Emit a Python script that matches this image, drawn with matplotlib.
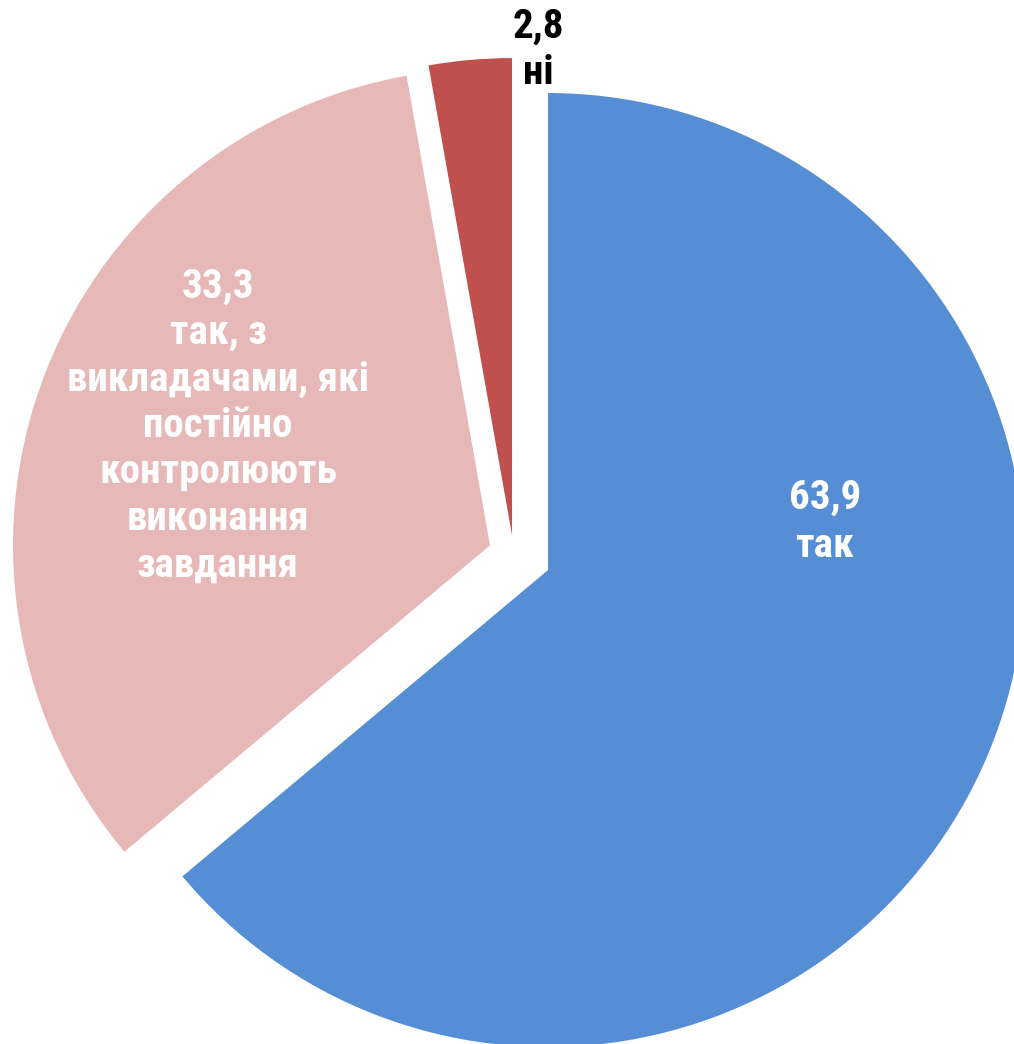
import matplotlib
matplotlib.use("Agg")
import matplotlib.pyplot as plt
from matplotlib import font_manager as fm

values = [63.9, 33.3, 2.8]
value_labels = ["63,9", "33,3", "2,8"]
categories = ["так", "так, з\nвикладачами, які\nпостійно\nконтролюють\nвиконання\nзавдання", "ні"]
colors = ["#558ED5", "#E6B9B8", "#C0504D"]

names = {f.name for f in fm.fontManager.ttflist}
fam = [n for n in ["Liberation Sans Narrow", "Arial Narrow", "Roboto Condensed", "Liberation Sans"] if n in names] + ["DejaVu Sans"]
plt.rcParams['font.family'] = fam

W, H = 1014, 1044
fig = plt.figure(figsize=(W / 100, H / 100), dpi=100)
ax = fig.add_axes([0, 0, 1, 1])
ax.pie(values, colors=colors, startangle=90, counterclock=False,
       center=(513.7, 490), radius=477, explode=[37.9, 25.2, 19.0],
       wedgeprops=dict(linewidth=0))
ax.set_xlim(0, W)
ax.set_ylim(0, H)
ax.set_aspect('equal')
ax.axis('off')

fs = 29.5
ax.text(825, 522, f"{value_labels[0]}\n{categories[0]}", color="white", fontsize=fs,
        fontweight="bold", ha="center", va="center", linespacing=1.32)
ax.text(218, 618, f"{value_labels[1]}\n{categories[1]}", color="white", fontsize=fs,
        fontweight="bold", ha="center", va="center", linespacing=1.28)
ax.text(538, 994, f"{value_labels[2]}\n{categories[2]}", color="black", fontsize=fs,
        fontweight="bold", ha="center", va="center", linespacing=1.28)

fig.savefig("out.png", dpi=100)
